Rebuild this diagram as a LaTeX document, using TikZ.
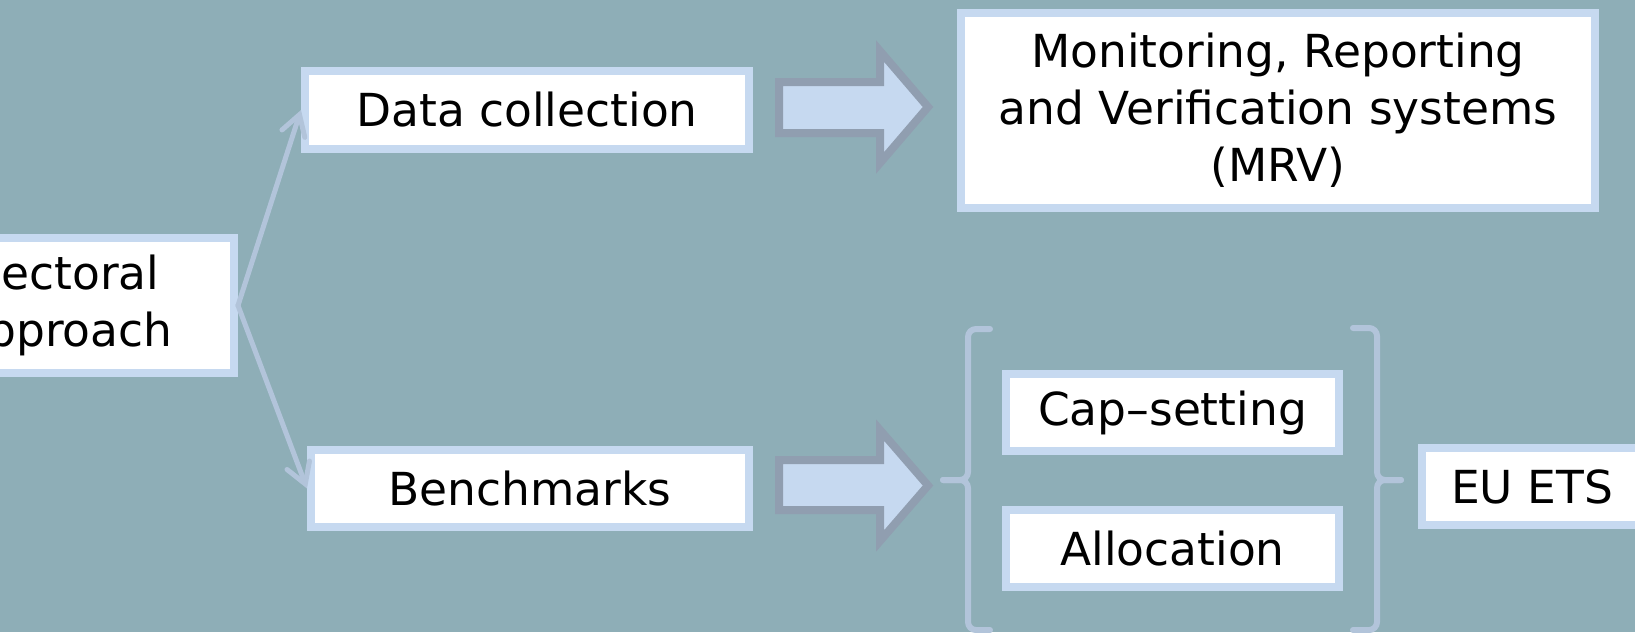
\documentclass[tikz,border=0pt]{standalone}
\usepackage{fontspec}
\setmainfont{DejaVu Sans}
\usetikzlibrary{arrows.meta}
\definecolor{bg}{RGB}{142,174,183}
\definecolor{boxblue}{RGB}{198,217,240}
\definecolor{arrowedge}{RGB}{144,158,176}
\definecolor{linkblue}{RGB}{178,196,218}
\begin{document}
\begin{tikzpicture}[x=1pt,y=-1pt,
  box/.style={draw=boxblue, line width=8pt, fill=white, inner sep=0pt, align=center,
              font=\fontsize{45.5}{57}\selectfont, text=black},
  link/.style={draw=linkblue, line width=5pt, line cap=round,
               -{Straight Barb[length=20pt,width=24pt,line cap=round]}},
  bracestyle/.style={draw=linkblue, line width=6pt, line cap=round, rounded corners=8pt},
  blockarrow/.style={draw=arrowedge, fill=boxblue, line width=8pt, line join=miter}]
\useasboundingbox (0,0) rectangle (1635,632);
\fill[bg] (0,0) rectangle (1635,632);
\clip (0,0) rectangle (1635,632);

% nodes
\node[box, minimum width=336pt, minimum height=135pt] (sect) at (66,305.5) {Sectoral\\approach};
\node[box, minimum width=444pt, minimum height=78pt] (data) at (527,110) {Data collection};
\node[box, minimum width=438pt, minimum height=77pt] (bench) at (530,488.5) {Benchmarks};
\node[box, minimum width=634pt, minimum height=195pt] (mrv) at (1278,110.5)
  {Monitoring, Reporting\\and Verification systems\\(MRV)};
\node[box, minimum width=333pt, minimum height=77pt] (cap) at (1172.5,412.5) {Cap--setting};
\node[box, minimum width=333pt, minimum height=77pt] (alloc) at (1172.5,548.5) {Allocation};
\node[box, minimum width=220pt, minimum height=77pt] (euets) at (1532,486.5) {EU ETS};

% connectors
\draw[link] (sect.east) -- (data.west);
\draw[link] (sect.east) -- (bench.west);

% block arrows
\filldraw[blockarrow] (779,82) -- (880,82) -- (880,51) -- (928,107) -- (880,163)
  -- (880,133) -- (779,133) -- cycle;
\filldraw[blockarrow] (779,460) -- (880,460) -- (880,430) -- (928,485.5) -- (880,541)
  -- (880,510) -- (779,510) -- cycle;

% braces
\draw[bracestyle] (990,329) -- (968,329) -- (968,480) -- (943,480);
\draw[bracestyle] (990,630) -- (968,630) -- (968,480) -- (943,480);
\draw[bracestyle] (1353,328) -- (1377,328) -- (1377,480) -- (1401,480);
\draw[bracestyle] (1353,630) -- (1377,630) -- (1377,480) -- (1401,480);
\end{tikzpicture}
\end{document}
